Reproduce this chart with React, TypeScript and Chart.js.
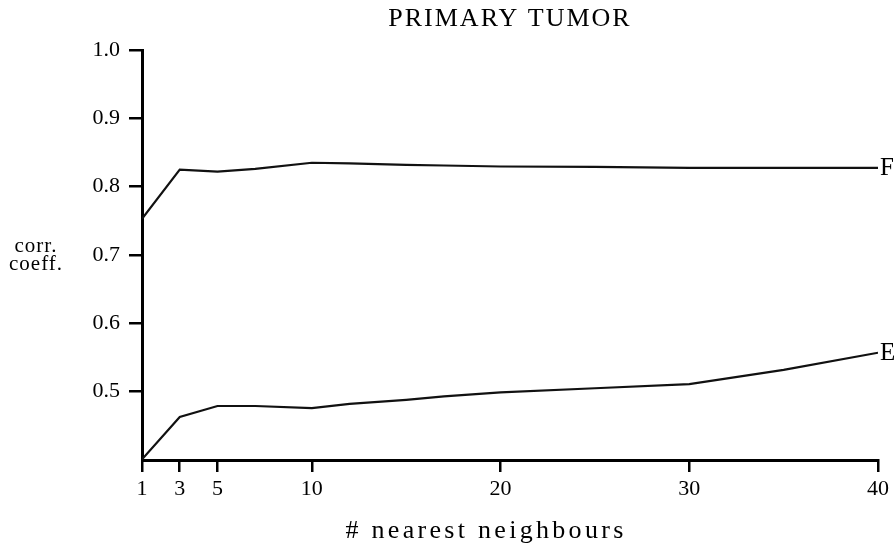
import React, { useEffect, useRef } from "react";
import { Chart, registerables } from "chart.js";

Chart.register(...registerables);

// ---- data ----
const neighbours = [1, 3, 5, 7, 10, 12, 15, 17, 20, 25, 30, 35, 40];
const seriesF = [0.753, 0.825, 0.822, 0.826, 0.835, 0.834, 0.832, 0.831, 0.8295, 0.829, 0.8275, 0.8275, 0.8275];
const seriesE = [0.401, 0.463, 0.479, 0.479, 0.476, 0.482, 0.488, 0.493, 0.499, 0.505, 0.511, 0.532, 0.557];
const seriesNames = ["F", "E"];
const xTicks = [1, 3, 5, 10, 20, 30, 40];
const yTicks = [0.5, 0.6, 0.7, 0.8, 0.9, 1.0];
const chartTitle = "PRIMARY TUMOR";
const xTitle = "# nearest neighbours";
const yTitleLines = ["corr.", "coeff."];

const FONT = '"Liberation Serif", "Times New Roman", serif';
const INK = "#111";

const textPlugin = {
  id: "textPlugin",
  afterDraw(chart: any) {
    const ctx = chart.ctx as CanvasRenderingContext2D;
    const xs = chart.scales.x;
    const ys = chart.scales.y;
    const area = chart.chartArea;
    ctx.save();
    ctx.fillStyle = "#000";

    // title
    ctx.font = `26px ${FONT}`;
    (ctx as any).letterSpacing = "2px";
    ctx.textAlign = "center";
    ctx.textBaseline = "alphabetic";
    ctx.fillText(chartTitle, (area.left + area.right) / 2, 26);

    // x title
    ctx.font = `26px ${FONT}`;
    (ctx as any).letterSpacing = "3.3px";
    ctx.fillText(xTitle, 486, 538);

    // y title
    ctx.font = `21px ${FONT}`;
    (ctx as any).letterSpacing = "1px";
    ctx.fillText(yTitleLines[0], 36, 252);
    ctx.fillText(yTitleLines[1], 36, 270);

    // series labels at line ends
    ctx.font = `25px ${FONT}`;
    (ctx as any).letterSpacing = "0px";
    ctx.textAlign = "left";
    ctx.textBaseline = "middle";
    const lastX = neighbours[neighbours.length - 1];
    const ends = [seriesF[seriesF.length - 1], seriesE[seriesE.length - 1]];
    seriesNames.forEach((name, i) => {
      ctx.fillText(name, xs.getPixelForValue(lastX) + 2, ys.getPixelForValue(ends[i]) + 1);
    });
    ctx.restore();
  },
};

export default function App() {
  const canvasRef = useRef<HTMLCanvasElement | null>(null);

  useEffect(() => {
    if (!canvasRef.current) return;
    const chart = new Chart(canvasRef.current, {
      type: "line",
      data: {
        datasets: [
          {
            label: seriesNames[0],
            data: neighbours.map((n, i) => ({ x: n, y: seriesF[i] })),
            borderColor: INK,
            borderWidth: 2.2,
            pointRadius: 0,
            tension: 0,
            fill: false,
          },
          {
            label: seriesNames[1],
            data: neighbours.map((n, i) => ({ x: n, y: seriesE[i] })),
            borderColor: INK,
            borderWidth: 2.2,
            pointRadius: 0,
            tension: 0,
            fill: false,
          },
        ],
      },
      options: {
        responsive: false,
        animation: false,
        layout: { padding: { top: 50, right: 17, bottom: 0, left: 0 } },
        plugins: {
          legend: { display: false },
          title: { display: false },
          tooltip: { enabled: false },
        },
        scales: {
          x: {
            type: "linear",
            min: 1,
            max: 40,
            afterBuildTicks: (scale: any) => {
              scale.ticks = xTicks.map((v) => ({ value: v }));
            },
            afterFit: (scale: any) => {
              scale.height = 84;
            },
            ticks: {
              autoSkip: false,
              maxRotation: 0,
              padding: 4,
              color: "#000",
              font: { family: FONT, size: 22 },
              callback: (v: any) => String(v),
            },
            grid: {
              drawOnChartArea: false,
              drawTicks: true,
              tickLength: 12,
              color: "#000",
              lineWidth: 2.5,
            },
            border: { display: true, color: "#000", width: 3 },
          },
          y: {
            type: "linear",
            min: 0.4,
            max: 1.0,
            afterBuildTicks: (scale: any) => {
              scale.ticks = yTicks.map((v) => ({ value: v }));
            },
            afterFit: (scale: any) => {
              scale.width = 142;
            },
            ticks: {
              autoSkip: false,
              padding: 9,
              color: "#000",
              font: { family: FONT, size: 22 },
              callback: (v: any) => Number(v).toFixed(1),
            },
            grid: {
              drawOnChartArea: false,
              drawTicks: true,
              tickLength: 13,
              color: "#000",
              lineWidth: 2.5,
            },
            border: { display: true, color: "#000", width: 3 },
          },
        },
      },
      plugins: [textPlugin],
    });
    return () => chart.destroy();
  }, []);

  return (
    <div style={{ position: "absolute", left: 0, top: 0, width: 895, height: 544, background: "#fff" }}>
      <canvas ref={canvasRef} width={895} height={544} style={{ display: "block" }} />
    </div>
  );
}
